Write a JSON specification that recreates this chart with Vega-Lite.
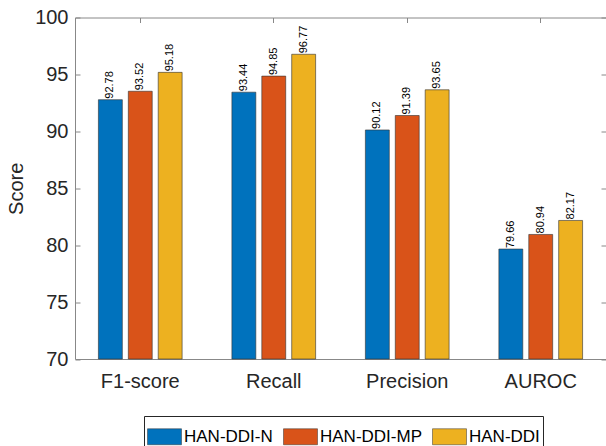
{
  "$schema": "https://vega.github.io/schema/vega-lite/v6.json",
  "width": 531,
  "height": 341.5,
  "autosize": {"type": "none"},
  "padding": {"left": 75, "top": 17.5, "right": 0, "bottom": 87},
  "background": "white",
  "config": {
    "font": "Liberation Sans",
    "view": {"stroke": "#888888", "strokeWidth": 1},
    "axis": {
      "grid": false,
      "domain": false,
      "tickColor": "#888888",
      "tickWidth": 1,
      "tickSize": -5,
      "labelFont": "Liberation Sans",
      "labelFontSize": 20,
      "labelColor": "#262626",
      "titleFont": "Liberation Sans",
      "titleFontSize": 20,
      "titleColor": "#262626",
      "titleFontWeight": "normal"
    },
    "legend": {
      "orient": "none",
      "legendX": 69,
      "legendY": 398.5,
      "direction": "horizontal",
      "columns": 3,
      "symbolType": "M-1,-0.47H1V0.47H-1Z",
      "symbolSize": 1156,
      "symbolStrokeColor": "#333333",
      "symbolStrokeWidth": 0.5,
      "symbolOpacity": 1,
      "labelFont": "Liberation Sans",
      "labelFontSize": 17,
      "labelColor": "#000000",
      "labelOffset": 2,
      "columnPadding": 9,
      "padding": 3,
      "strokeColor": "#262626",
      "fillColor": "white"
    }
  },
  "data": {
    "values": [
      {"metric": "F1-score", "model": "HAN-DDI-N", "score": 92.78},
      {"metric": "F1-score", "model": "HAN-DDI-MP", "score": 93.52},
      {"metric": "F1-score", "model": "HAN-DDI", "score": 95.18},
      {"metric": "Recall", "model": "HAN-DDI-N", "score": 93.44},
      {"metric": "Recall", "model": "HAN-DDI-MP", "score": 94.85},
      {"metric": "Recall", "model": "HAN-DDI", "score": 96.77},
      {"metric": "Precision", "model": "HAN-DDI-N", "score": 90.12},
      {"metric": "Precision", "model": "HAN-DDI-MP", "score": 91.39},
      {"metric": "Precision", "model": "HAN-DDI", "score": 93.65},
      {"metric": "AUROC", "model": "HAN-DDI-N", "score": 79.66},
      {"metric": "AUROC", "model": "HAN-DDI-MP", "score": 80.94},
      {"metric": "AUROC", "model": "HAN-DDI", "score": 82.17}
    ]
  },
  "layer": [
    {
      "mark": {"type": "bar", "stroke": "#333333", "strokeWidth": 0.6},
      "encoding": {
        "x": {
          "field": "metric", "type": "nominal",
          "sort": ["F1-score", "Recall", "Precision", "AUROC"],
          "scale": {"paddingInner": 0.328, "paddingOuter": 0.153},
          "axis": {"orient": "bottom", "title": null, "labelAngle": 0, "bandPosition": 0.5, "labelPadding": 17.5}
        },
        "xOffset": {
          "field": "model", "type": "nominal",
          "sort": ["HAN-DDI-N", "HAN-DDI-MP", "HAN-DDI"],
          "scale": {"paddingInner": 0.2, "paddingOuter": 0.1}
        },
        "y": {
          "field": "score", "type": "quantitative",
          "scale": {"domain": [70, 100], "nice": false, "zero": false},
          "axis": {"orient": "left", "title": "Score", "values": [70, 75, 80, 85, 90, 95, 100], "labelPadding": 12, "titlePadding": 8}
        },
        "y2": {"datum": 70},
        "color": {
          "field": "model", "type": "nominal",
          "sort": ["HAN-DDI-N", "HAN-DDI-MP", "HAN-DDI"],
          "scale": {"domain": ["HAN-DDI-N", "HAN-DDI-MP", "HAN-DDI"], "range": ["#0072BD", "#D95319", "#EDB120"]},
          "legend": {"title": null}
        }
      }
    },
    {
      "mark": {"type": "text", "angle": 270, "align": "left", "baseline": "middle", "dx": 1, "fontSize": 11, "fill": "#000000", "font": "Liberation Sans"},
      "encoding": {
        "x": {
          "field": "metric", "type": "nominal",
          "sort": ["F1-score", "Recall", "Precision", "AUROC"],
          "axis": {"orient": "top", "title": null, "labels": false, "bandPosition": 0.5}
        },
        "xOffset": {
          "field": "model", "type": "nominal",
          "sort": ["HAN-DDI-N", "HAN-DDI-MP", "HAN-DDI"]
        },
        "y": {
          "field": "score", "type": "quantitative",
          "axis": {"orient": "right", "title": null, "labels": false, "values": [70, 75, 80, 85, 90, 95, 100]}
        },
        "text": {"field": "score", "type": "quantitative", "format": ".2f"}
      }
    }
  ],
  "resolve": {"axis": {"x": "independent", "y": "independent"}}
}
